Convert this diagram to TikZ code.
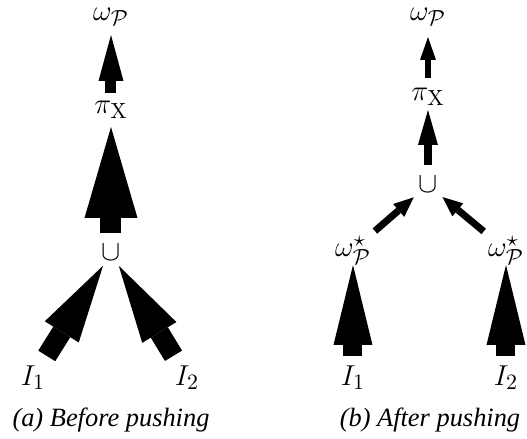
\documentclass[tikz,border=0pt]{standalone}
\usepackage[no-math]{fontspec}
\setmainfont{Liberation Serif}
\usetikzlibrary{arrows.meta}

\tikzset{
  lbl/.style={inner sep=0pt, font=\fontsize{15.6}{18}\selectfont},
  subcap/.style={inner sep=0pt, font=\fontsize{13.2}{16}\selectfont\itshape},
  flow/.style n args={3}{line width=#1, -{Triangle[length=#2, width=#3, line width=0pt]}},
}

\begin{document}
\begin{tikzpicture}[x=0.5pt, y=-0.5pt]
    \useasboundingbox (0,0) rectangle (527,439);

    % (a) before pushing
    \node[lbl] (om1) at (111,17) {$\omega_{\mathcal{P}}$};
    \node[lbl] (pi1) at (111,110) {$\pi_{\mathrm{X}}$};
    \node[lbl] (cup1) at (111,253) {$\cup$};
    \node[lbl] (ia1) at (33,378) {$I_1$};
    \node[lbl] (ib1) at (187,378) {$I_2$};
    \node[subcap] (capa) at (111,420) {(a) Before pushing};

    \draw[flow={5.5pt}{23pt}{12.5pt}, shorten <=8.5pt, shorten >=9pt] (pi1.center) -- (om1.center);
    \draw[flow={10.5pt}{45.5pt}{26.5pt}, shorten <=10pt, shorten >=8.5pt] (cup1.center) -- (pi1.center);
    \draw[flow={10pt}{39pt}{20pt}, shorten <=13pt, shorten >=7.5pt] (ia1.center) -- (cup1.center);
    \draw[flow={10pt}{39pt}{20pt}, shorten <=13pt, shorten >=7.5pt] (ib1.center) -- (cup1.center);

    % (b) after pushing
    \node[lbl] (om2) at (428,17) {$\omega_{\mathcal{P}}$};
    \node[lbl] (pi2) at (428,97) {$\pi_{\mathrm{X}}$};
    \node[lbl] (cup2) at (428,185) {$\cup$};
    \node[lbl] (sa) at (353,250) {$\omega^{\star}_{\mathcal{P}}$};
    \node[lbl] (sb) at (506,250) {$\omega^{\star}_{\mathcal{P}}$};
    \node[lbl] (ja) at (353,378) {$I_1$};
    \node[lbl] (jb) at (506,378) {$I_2$};
    \node[subcap] (capb) at (430,420) {(b) After pushing};

    \draw[flow={3pt}{11.5pt}{8pt}, shorten <=9.5pt, shorten >=10pt] (pi2.center) -- (om2.center);
    \draw[flow={4pt}{17.5pt}{10pt}, shorten <=10pt, shorten >=6.5pt] (cup2.center) -- (pi2.center);
    \draw[flow={3.5pt}{10pt}{8.5pt}, shorten <=14.5pt, shorten >=9.4pt] (sa.center) -- (cup2.center);
    \draw[flow={3.5pt}{10pt}{8.5pt}, shorten <=14.5pt, shorten >=9.4pt] (sb.center) -- (cup2.center);
    \draw[flow={9.5pt}{40pt}{19.5pt}, shorten <=11pt, shorten >=7.5pt] (ja.center) -- (sa.center);
    \draw[flow={9.5pt}{40pt}{19.5pt}, shorten <=11pt, shorten >=7.5pt] (jb.center) -- (sb.center);
\end{tikzpicture}
\end{document}
